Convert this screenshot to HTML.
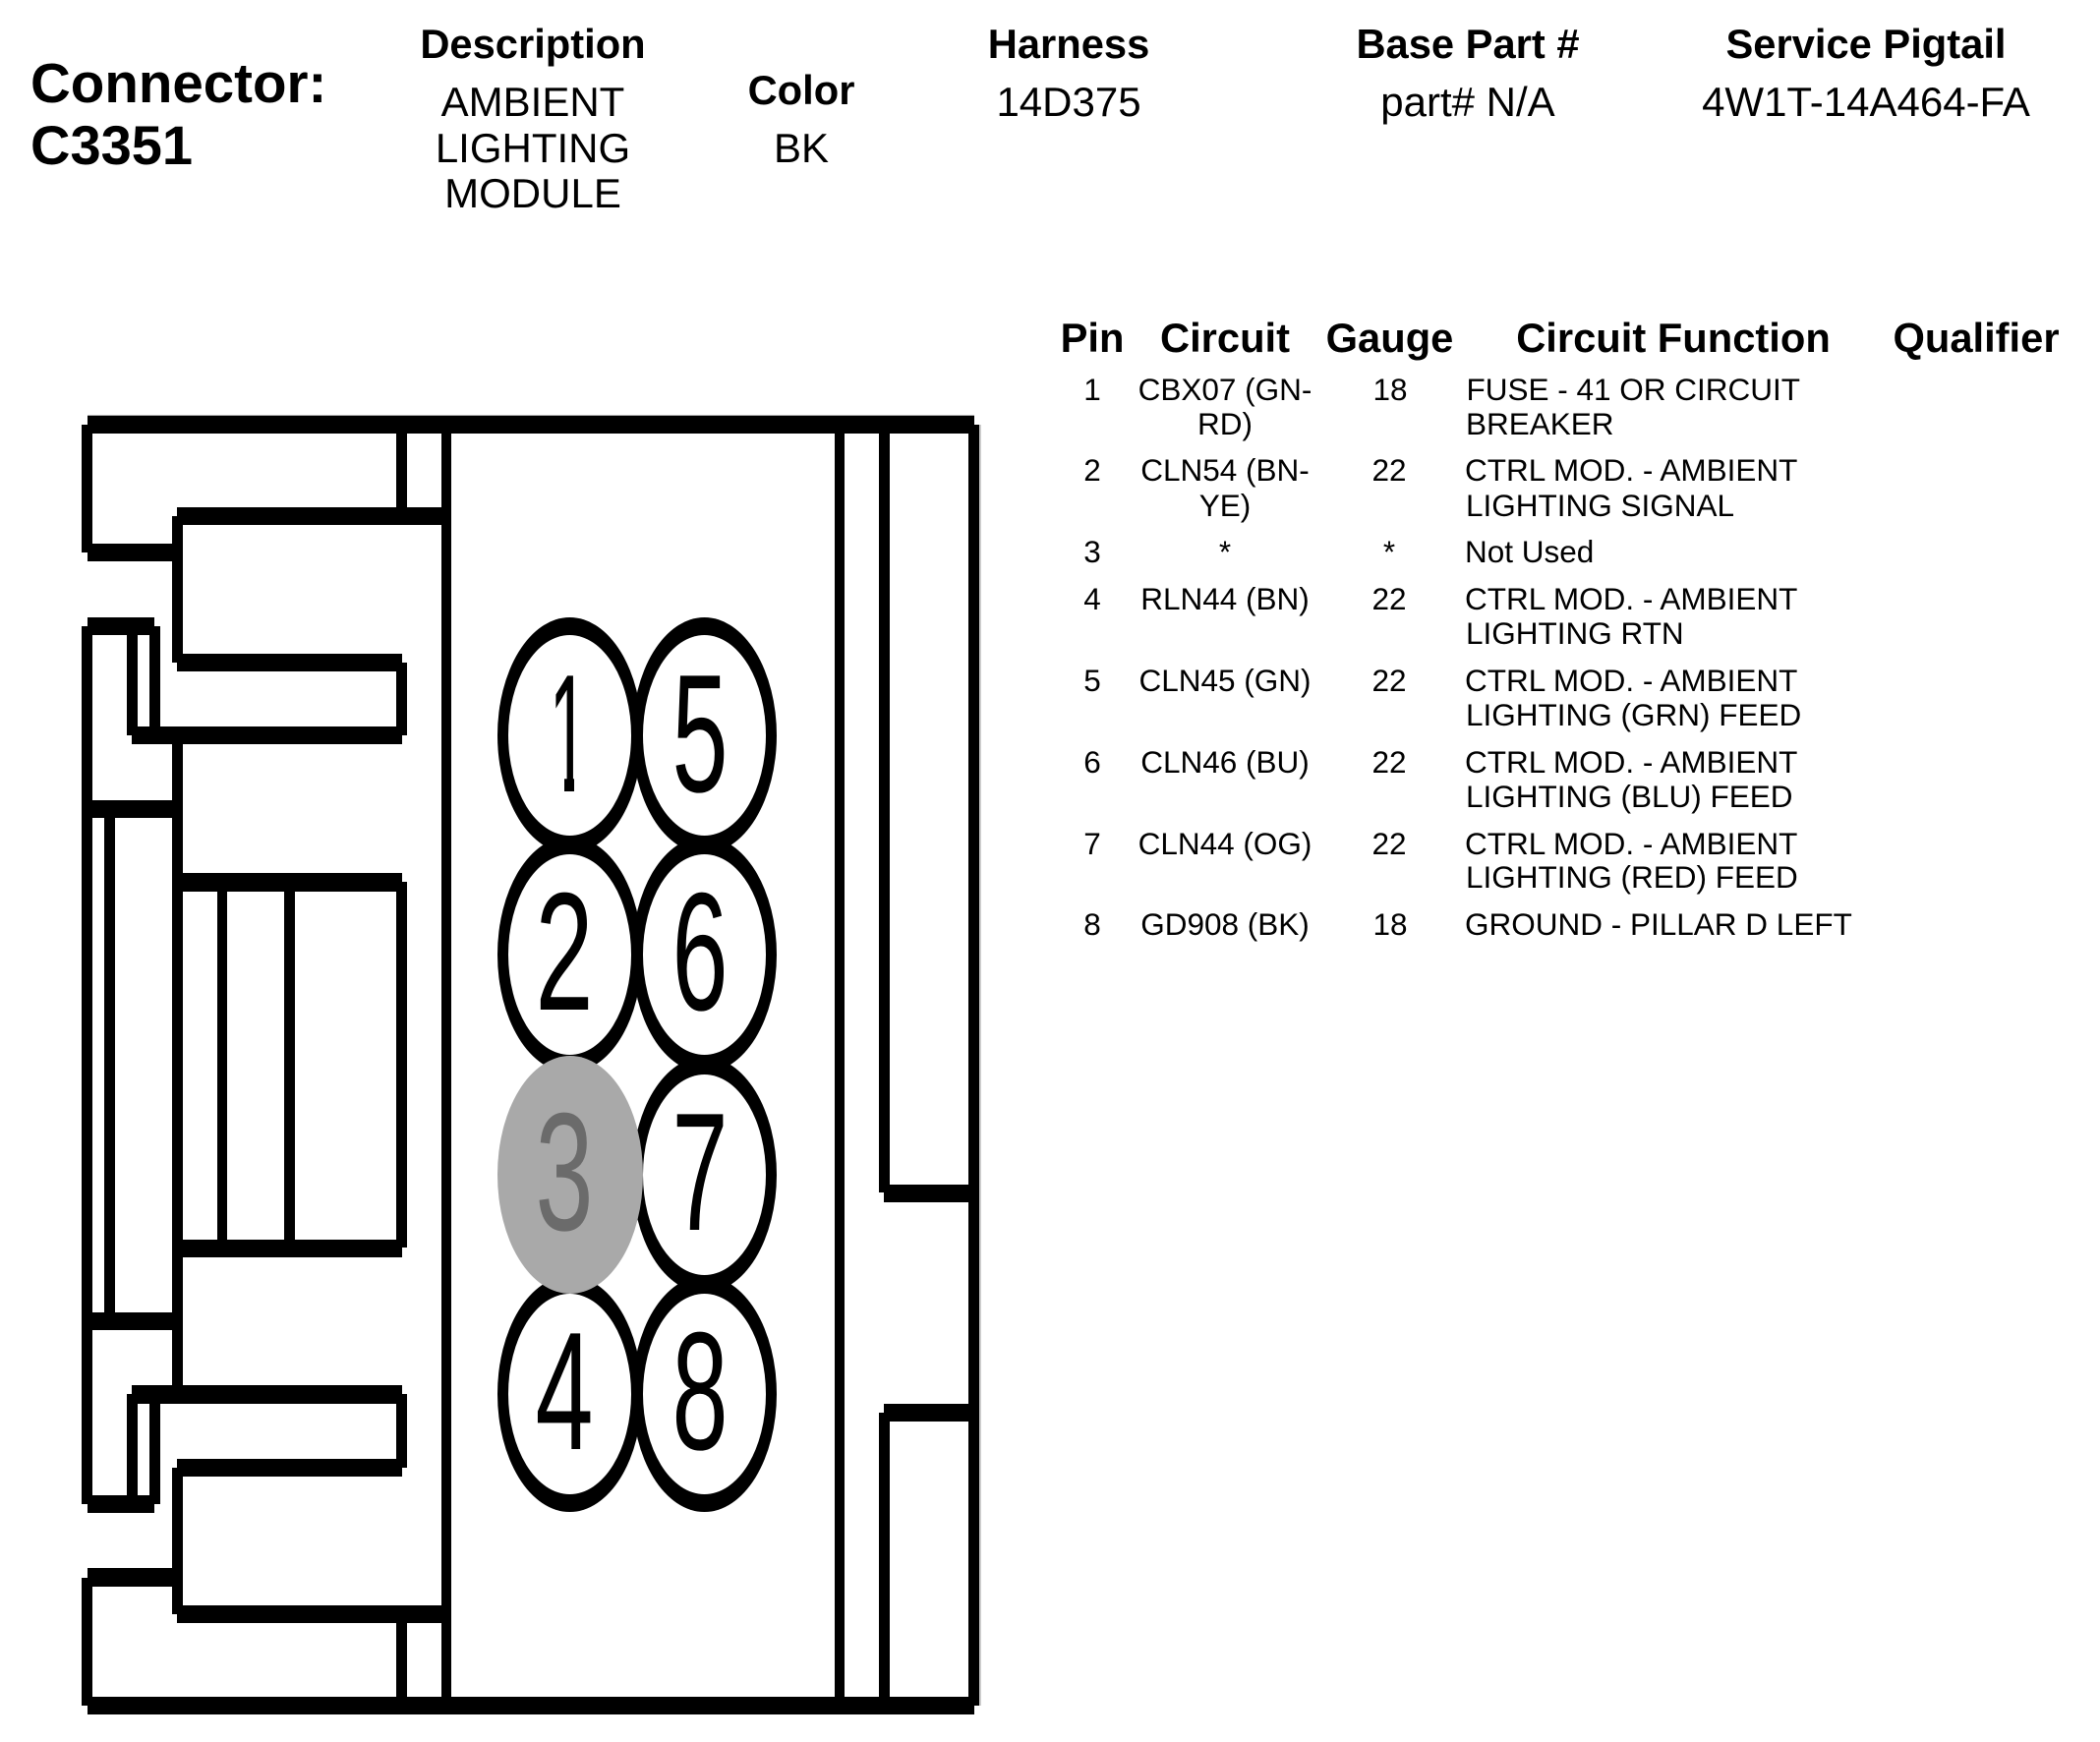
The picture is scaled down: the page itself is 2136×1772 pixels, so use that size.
<!DOCTYPE html>
<html><head><meta charset="utf-8"><style>
html,body{margin:0;padding:0;background:#fff}
svg{display:block}
text{font-family:"Liberation Sans",sans-serif;fill:#000}
.h{font-size:41.7px;font-weight:bold;text-anchor:middle}
.v{font-size:42px;text-anchor:middle}
.c{font-size:31.5px;text-anchor:middle}
.f{font-size:31.5px}
.d{font-size:171px}
</style></head><body>
<svg width="2136" height="1772" viewBox="0 0 2136 1772" xmlns="http://www.w3.org/2000/svg">
<rect width="2136" height="1772" fill="#fff"/>
<text x="31" y="104" font-size="56.5" font-weight="bold">Connector:</text>
<text x="31" y="167" font-size="56" font-weight="bold">C3351</text>
<text class="h" x="542" y="59">Description</text>
<text class="v" x="542" y="118">AMBIENT</text>
<text class="v" x="542" y="165">LIGHTING</text>
<text class="v" x="542" y="211">MODULE</text>
<text class="h" x="815" y="106">Color</text>
<text class="v" x="815" y="165">BK</text>
<text class="h" x="1087" y="59">Harness</text>
<text class="v" x="1087" y="118">14D375</text>
<text class="h" x="1493" y="59">Base Part #</text>
<text class="v" x="1493" y="118">part# N/A</text>
<text class="h" x="1898" y="59">Service Pigtail</text>
<text class="v" x="1898" y="118">4W1T-14A464-FA</text>
<text class="h" x="1111" y="358">Pin</text>
<text class="h" x="1246" y="358">Circuit</text>
<text class="h" x="1413.5" y="358">Gauge</text>
<text class="h" x="1702" y="358">Circuit Function</text>
<text class="h" x="2010" y="358">Qualifier</text>
<text class="c" x="1111" y="407">1</text><text class="c" x="1246" y="407">CBX07 (GN-</text><text class="c" x="1246" y="442">RD)</text><text class="c" x="1414" y="407">18</text><text class="f" x="1491.5" y="407">FUSE - 41 OR CIRCUIT</text><text class="f" x="1491" y="442">BREAKER</text>
<text class="c" x="1111" y="489">2</text><text class="c" x="1246" y="489">CLN54 (BN-</text><text class="c" x="1246" y="525">YE)</text><text class="c" x="1413" y="489">22</text><text class="f" x="1490" y="489">CTRL MOD. - AMBIENT</text><text class="f" x="1491" y="525">LIGHTING SIGNAL</text>
<text class="c" x="1111" y="572">3</text><text class="c" x="1246" y="572">*</text><text class="c" x="1413" y="572">*</text><text class="f" x="1490" y="572">Not Used</text>
<text class="c" x="1111" y="620">4</text><text class="c" x="1246" y="620">RLN44 (BN)</text><text class="c" x="1413" y="620">22</text><text class="f" x="1490" y="620">CTRL MOD. - AMBIENT</text><text class="f" x="1491" y="655">LIGHTING RTN</text>
<text class="c" x="1111" y="703">5</text><text class="c" x="1246" y="703">CLN45 (GN)</text><text class="c" x="1413" y="703">22</text><text class="f" x="1490" y="703">CTRL MOD. - AMBIENT</text><text class="f" x="1491" y="738">LIGHTING (GRN) FEED</text>
<text class="c" x="1111" y="786">6</text><text class="c" x="1246" y="786">CLN46 (BU)</text><text class="c" x="1413" y="786">22</text><text class="f" x="1490" y="786">CTRL MOD. - AMBIENT</text><text class="f" x="1491" y="821">LIGHTING (BLU) FEED</text>
<text class="c" x="1111" y="869">7</text><text class="c" x="1246" y="869">CLN44 (OG)</text><text class="c" x="1413" y="869">22</text><text class="f" x="1490" y="869">CTRL MOD. - AMBIENT</text><text class="f" x="1491" y="903">LIGHTING (RED) FEED</text>
<text class="c" x="1111" y="951">8</text><text class="c" x="1246" y="951">GD908 (BK)</text><text class="c" x="1414" y="951">18</text><text class="f" x="1490" y="951">GROUND - PILLAR D LEFT</text>
<g fill="#000">
<rect x="89" y="422" width="902" height="1" fill="#aaa"/>
<rect x="996" y="432" width="2" height="1303" fill="#ccc"/>
<rect x="89" y="423" width="902" height="18"/>
<rect x="89" y="1726" width="902" height="18"/>
<rect x="83" y="432" width="11" height="130"/>
<rect x="89" y="553" width="87" height="18"/>
<rect x="175" y="525" width="11" height="149"/>
<rect x="180" y="516" width="279" height="18"/>
<rect x="403" y="441" width="11" height="75"/>
<rect x="449" y="423" width="10" height="1312"/>
<rect x="180" y="665" width="229" height="18"/>
<rect x="403" y="674" width="11" height="74"/>
<rect x="134" y="739" width="275" height="18"/>
<rect x="89" y="628" width="68" height="18"/>
<rect x="83" y="637" width="11" height="893"/>
<rect x="129" y="637" width="11" height="111"/>
<rect x="152" y="637" width="11" height="111"/>
<rect x="175" y="748" width="11" height="662"/>
<rect x="83" y="814" width="103" height="18"/>
<rect x="106" y="832" width="11" height="503"/>
<rect x="186" y="888" width="223" height="19"/>
<rect x="403" y="897" width="11" height="372"/>
<rect x="186" y="1261" width="223" height="18"/>
<rect x="221" y="907" width="10" height="354"/>
<rect x="289" y="907" width="11" height="354"/>
<rect x="83" y="1335" width="103" height="18"/>
<rect x="134" y="1409" width="275" height="19"/>
<rect x="403" y="1418" width="11" height="75"/>
<rect x="180" y="1484" width="229" height="18"/>
<rect x="175" y="1493" width="11" height="149"/>
<rect x="129" y="1418" width="11" height="112"/>
<rect x="152" y="1428" width="11" height="102"/>
<rect x="89" y="1521" width="68" height="18"/>
<rect x="89" y="1595" width="87" height="19"/>
<rect x="83" y="1605" width="11" height="130"/>
<rect x="180" y="1633" width="279" height="18"/>
<rect x="403" y="1651" width="11" height="75"/>
<rect x="849" y="423" width="10" height="1312"/>
<rect x="894" y="423" width="11" height="790"/>
<rect x="985" y="432" width="11" height="1303"/>
<rect x="899" y="1205" width="97" height="18"/>
<rect x="899" y="1428" width="97" height="18"/>
<rect x="894" y="1437" width="11" height="298"/>
</g>
<g fill="#000">
<ellipse cx="579.5" cy="748" rx="73.5" ry="120"/><ellipse cx="716.5" cy="748" rx="73.5" ry="120"/>
<ellipse cx="579.5" cy="971" rx="73.5" ry="120"/><ellipse cx="716.5" cy="971" rx="73.5" ry="120"/>
<ellipse cx="716.5" cy="1195" rx="73.5" ry="120"/>
<ellipse cx="579.5" cy="1418" rx="73.5" ry="120"/><ellipse cx="716.5" cy="1418" rx="73.5" ry="120"/>
</g>
<g fill="#fff">
<ellipse cx="579.5" cy="748" rx="62.5" ry="102"/><ellipse cx="716.5" cy="748" rx="62.5" ry="102"/>
<ellipse cx="579.5" cy="971" rx="62.5" ry="102"/><ellipse cx="716.5" cy="971" rx="62.5" ry="102"/>
<ellipse cx="716.5" cy="1195" rx="62.5" ry="102"/>
<ellipse cx="579.5" cy="1418" rx="62.5" ry="102"/><ellipse cx="716.5" cy="1418" rx="62.5" ry="102"/>
</g>
<ellipse cx="580" cy="1195" rx="74" ry="121" fill="#a9a9a9"/>
<g text-anchor="middle">
<text class="d" transform="translate(578.5 805) scale(.42 1)">1</text>
<text class="d" transform="translate(574 1027) scale(.62 1)">2</text>
<text class="d" transform="translate(574 1251) scale(.62 1)" style="fill:#6b6b6b">3</text>
<text class="d" transform="translate(574 1474) scale(.62 1)">4</text>
<text class="d" transform="translate(712 805) scale(.6 1)">5</text>
<text class="d" transform="translate(712 1027) scale(.6 1)">6</text>
<text class="d" transform="translate(712 1251) scale(.6 1)">7</text>
<text class="d" transform="translate(712 1474) scale(.6 1)">8</text>
</g>
<rect x="552" y="789" width="22" height="18" fill="#fff"/>
<rect x="584" y="789" width="24" height="18" fill="#fff"/>
</svg>
</body></html>
